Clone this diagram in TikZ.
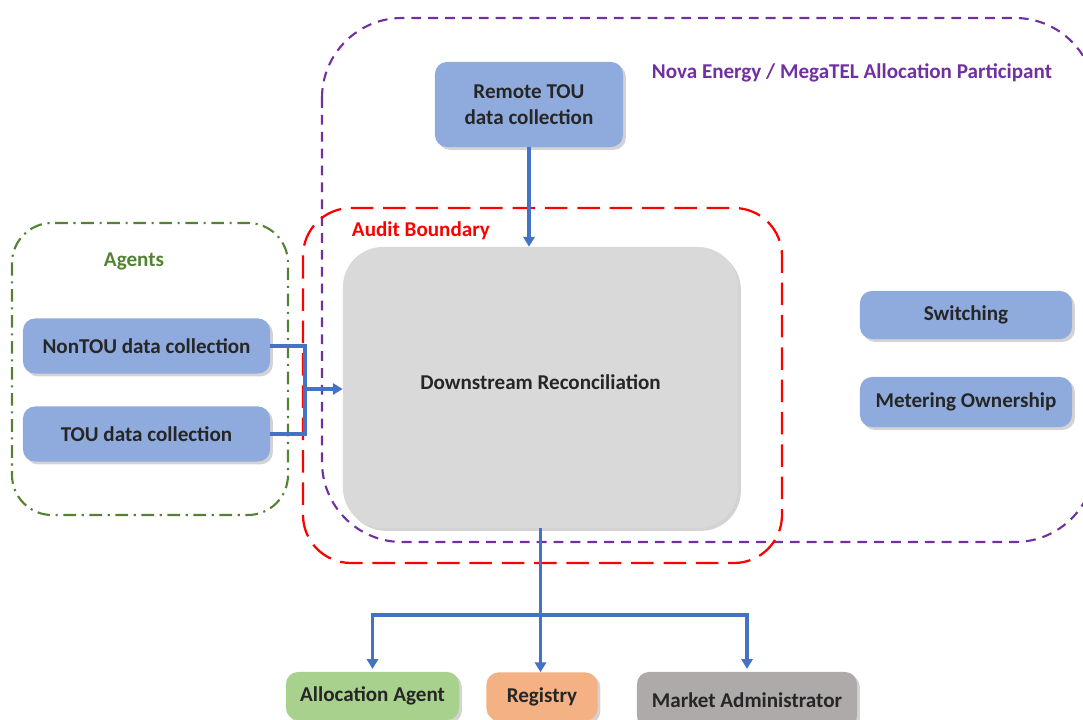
\documentclass[tikz,border=0pt]{standalone}
\usepackage{fontspec}
\setmainfont{Carlito}
\usetikzlibrary{positioning,arrows.meta,shadows}
\definecolor{boxblue}{HTML}{8FAADC}
\definecolor{boxgray}{HTML}{D9D9D9}
\definecolor{boxgreen}{HTML}{A9D18E}
\definecolor{boxorange}{HTML}{F4B183}
\definecolor{boxdark}{HTML}{AEAAAA}
\definecolor{lineblue}{HTML}{4472C4}
\definecolor{novapurple}{HTML}{7030A0}
\definecolor{agentgreen}{HTML}{548235}
\definecolor{textgray}{HTML}{262626}

\begin{document}
\begin{tikzpicture}[x=0.025cm,y=-0.025cm,
    font=\fontsize{15}{18.5}\selectfont\bfseries,
    box/.style={rounded corners=0.3cm,text=textgray,align=center,inner sep=0pt,
        drop shadow={opacity=0.35,shadow xshift=2pt,shadow yshift=-2pt}},
    flow/.style={draw=lineblue,line width=2.2pt},
    tip/.style={-{Triangle[length=7pt,width=8pt]}}]
    \useasboundingbox (0,0) rectangle (1083,720);
    % % ----- frames ----- % %
    \draw [novapurple,line width=1.5pt,dash pattern=on 7pt off 5pt,rounded corners=2cm] (322,18) rectangle (1095,542); 	% participant
    \draw [red,line width=1.6pt,dash pattern=on 16pt off 7pt,rounded corners=1.2cm] (303,208) rectangle (782,563); 	% audit
    \draw [agentgreen,line width=1.5pt,dash pattern=on 9pt off 4pt on 1.5pt off 4pt,rounded corners=1cm] (12,223) rectangle (288,515); 	% agents
    \node [novapurple,anchor=west] (novalbl) at (647,73) {Nova Energy / MegaTEL Allocation Participant};
    \node [red,anchor=west] (auditlbl) at (347,231) {Audit Boundary};
    \node [agentgreen] (agentlbl) at (134,261) {Agents};
    % % ----- boxes ----- % %
    \node [box,fill=boxblue,minimum width=4.7cm,minimum height=2.125cm] (remote) at (529,104.5) {Remote TOU\\data collection};
    \node [box,fill=boxgray,rounded corners=1cm,minimum width=9.875cm,minimum height=7.025cm,text depth=0.25cm] (down) at (540.5,387.5) {Downstream Reconciliation};
    \node [box,fill=boxblue,minimum width=6.175cm,minimum height=1.375cm] (nontou) at (146.5,346) {NonTOU data collection};
    \node [box,fill=boxblue,minimum width=6.175cm,minimum height=1.375cm] (tou) at (146.5,434) {TOU data collection};
    \node [box,fill=boxblue,minimum width=5.3cm,minimum height=1.2cm] (switch) at (966,315) {Switching};
    \node [box,fill=boxblue,minimum width=5.3cm,minimum height=1.25cm] (meter) at (966,402) {Metering Ownership};
    \node [box,fill=boxgreen,minimum width=4.325cm,minimum height=1.2cm] (alloc) at (372.5,696) {Allocation Agent};
    \node [box,fill=boxorange,minimum width=2.775cm,minimum height=1.2cm] (registry) at (542,696.5) {Registry};
    \node [box,fill=boxdark,minimum width=5.5cm,minimum height=1.4cm] (market) at (747,700) {Market Administrator};
    % % ----- connectors ----- % %
    \coordinate (join) at (305,389);
    \coordinate (split) at (540.5,615);
    \draw [flow,tip] (remote.south) -- (remote.south |- down.north);
    \draw [flow] (nontou.east) -| (join);
    \draw [flow] (tou.east) -| (join);
    \draw [flow,tip] (join) -- (down.west |- join);
    \draw [flow] (down.south) -- (split);
    \draw [flow,tip,shorten >=2pt] (split) -| (alloc.north);
    \draw [flow,tip] (split) -- (split |- registry.north);
    \draw [flow,tip,shorten >=2pt] (split) -| (market.north);
\end{tikzpicture}
\end{document}
